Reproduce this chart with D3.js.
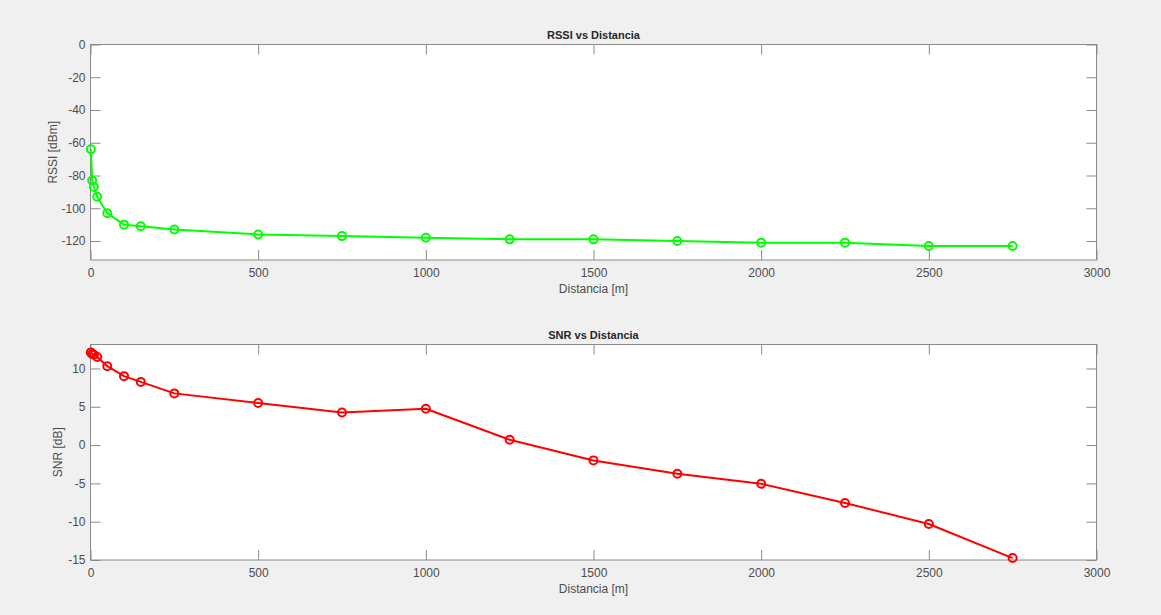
<!DOCTYPE html>
<html>
<head>
<meta charset="utf-8">
<script src="https://cdn.jsdelivr.net/npm/d3@7"></script>
<style>
  html, body { margin: 0; padding: 0; background: #f0f0f0; }
  svg { display: block; font-family: "Liberation Sans", Arial, sans-serif; }
</style>
</head>
<body>
<svg id="chart" width="1161" height="615"></svg>
<script>
// ---- data ----
const distancia = [1, 5, 10, 20, 50, 100, 150, 250, 500, 750, 1000, 1250, 1500, 1750, 2000, 2250, 2500, 2750];
const rssi = [-64, -83, -87, -93, -103, -110, -111, -113, -116, -117, -118, -119, -119, -120, -121, -121, -123, -123];
const snr = [12.1, 11.9, 11.8, 11.5, 10.3, 9.0, 8.25, 6.75, 5.5, 4.25, 4.75, 0.7, -2.0, -3.75, -5.05, -7.55, -10.3, -14.75];
const xTicks = [0, 500, 1000, 1500, 2000, 2500, 3000];
const rssiTicks = [-120, -100, -80, -60, -40, -20, 0];
const snrTicks = [-15, -10, -5, 0, 5, 10];

const svg = d3.select("#chart");
const axisColor = "#8a8a8a";
const textColor = "#4d4d4d";
const fmt = v => String(v);

function panel(cfg) {
  const { top, bottom, left, right, ys, yDomain, yTicks, title, ylabel, color } = cfg;
  const x = d3.scaleLinear().domain([0, 3000]).range([left, right]);
  const y = d3.scaleLinear().domain(yDomain).range([bottom, top]);
  const g = svg.append("g");
  g.append("rect").attr("x", left).attr("y", top).attr("width", right - left).attr("height", bottom - top)
    .attr("fill", "#ffffff");
  const tl = 10;
  const ax = [
    [d3.axisBottom(x).tickValues(xTicks).tickSize(-tl).tickPadding(8).tickFormat(fmt), `translate(0,${bottom})`],
    [d3.axisTop(x).tickValues(xTicks).tickSize(-tl).tickFormat(""), `translate(0,${top})`],
    [d3.axisLeft(y).tickValues(yTicks).tickSize(-tl).tickPadding(5).tickFormat(fmt), `translate(${left},0)`],
    [d3.axisRight(y).tickValues(yTicks).tickSize(-tl).tickFormat(""), `translate(${right},0)`]
  ];
  ax.forEach(([a, tr]) => {
    const s = g.append("g").attr("transform", tr).call(a.tickSizeOuter(0));
    s.select(".domain").remove();
    s.selectAll("line").attr("stroke", axisColor).attr("stroke-width", 1);
    s.selectAll("text").attr("fill", textColor).style("font-size", "12px")
      .style("font-family", '"Liberation Sans", Arial, sans-serif');
  });
  g.append("rect").attr("x", left).attr("y", top).attr("width", right - left).attr("height", bottom - top)
    .attr("fill", "none").attr("stroke", axisColor).attr("stroke-width", 1);
  g.append("text").attr("x", (left + right) / 2).attr("y", top - 6).attr("text-anchor", "middle")
    .style("font-size", "11px").style("font-weight", "bold").attr("fill", "#262626").text(title);
  g.append("text").attr("x", (left + right) / 2).attr("y", bottom + 33).attr("text-anchor", "middle")
    .style("font-size", "12px").attr("fill", textColor).text("Distancia [m]");
  g.append("text").attr("transform", `translate(${cfg.ylabelX},${(top + bottom) / 2}) rotate(-90)`)
    .attr("text-anchor", "middle").style("font-size", "12px").attr("fill", textColor).text(ylabel);
  const data = distancia.map((d, i) => [d, ys[i]]);
  const line = d3.line().x(d => x(d[0])).y(d => y(d[1]));
  g.append("path").datum(data).attr("d", line).attr("fill", "none").attr("stroke", color)
    .attr("stroke-width", 2).attr("stroke-linejoin", "round");
  g.selectAll("circle.m").data(data).enter().append("circle").attr("class", "m")
    .attr("cx", d => x(d[0])).attr("cy", d => y(d[1])).attr("r", 4)
    .attr("fill", "none").attr("stroke", color).attr("stroke-width", 2);
}

panel({ top: 44.5, bottom: 260, left: 90.5, right: 1096.5, ys: rssi, yDomain: [-131.6, 0], yTicks: rssiTicks,
  title: "RSSI vs Distancia", ylabel: "RSSI [dBm]", color: "#00ff00", ylabelX: 57 });
panel({ top: 344.5, bottom: 560, left: 90.5, right: 1096.5, ys: snr, yDomain: [-15, 13.13], yTicks: snrTicks,
  title: "SNR vs Distancia", ylabel: "SNR [dB]", color: "#ff0000", ylabelX: 62 });
</script>
</body>
</html>
